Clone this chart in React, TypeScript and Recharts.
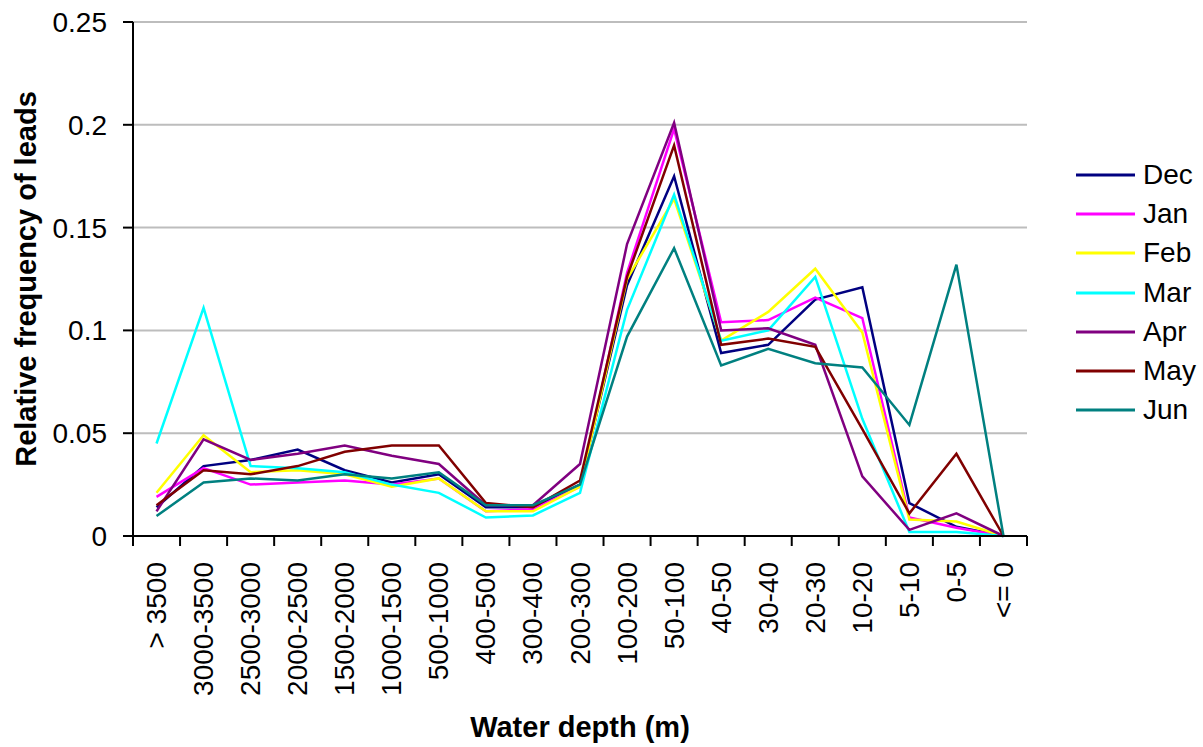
import { LineChart, Line, XAxis, YAxis, CartesianGrid, Legend } from 'recharts'

const depths = [
  '> 3500', '3000-3500', '2500-3000', '2000-2500', '1500-2000', '1000-1500', '500-1000',
  '400-500', '300-400', '200-300', '100-200', '50-100', '40-50', '30-40', '20-30',
  '10-20', '5-10', '0-5', '<= 0'
]

const dec = [0.014, 0.034, 0.037, 0.042, 0.032, 0.026, 0.030, 0.014, 0.014, 0.025, 0.122, 0.175, 0.089, 0.093, 0.115, 0.121, 0.016, 0.0045, 0]
const jan = [0.019, 0.033, 0.025, 0.026, 0.027, 0.025, 0.028, 0.012, 0.013, 0.024, 0.128, 0.198, 0.104, 0.105, 0.116, 0.106, 0.009, 0.004, 0]
const feb = [0.021, 0.049, 0.031, 0.032, 0.030, 0.024, 0.028, 0.012, 0.012, 0.024, 0.125, 0.164, 0.095, 0.109, 0.130, 0.099, 0.008, 0.007, 0]
const mar = [0.045, 0.111, 0.034, 0.033, 0.031, 0.025, 0.021, 0.009, 0.010, 0.021, 0.110, 0.166, 0.095, 0.100, 0.126, 0.057, 0.002, 0.002, 0]
const apr = [0.012, 0.047, 0.037, 0.040, 0.044, 0.039, 0.035, 0.015, 0.015, 0.035, 0.142, 0.201, 0.100, 0.101, 0.093, 0.029, 0.003, 0.011, 0]
const may = [0.015, 0.032, 0.030, 0.034, 0.041, 0.044, 0.044, 0.016, 0.014, 0.027, 0.126, 0.190, 0.093, 0.096, 0.092, 0.052, 0.011, 0.040, 0]
const jun = [0.0097, 0.026, 0.028, 0.027, 0.030, 0.028, 0.031, 0.015, 0.015, 0.025, 0.097, 0.140, 0.083, 0.091, 0.084, 0.082, 0.054, 0.132, 0]

const yTicks = [0, 0.05, 0.1, 0.15, 0.2, 0.25]

const series = [
  { key: 'Dec', values: dec, color: '#000080' },
  { key: 'Jan', values: jan, color: '#ff00ff' },
  { key: 'Feb', values: feb, color: '#ffff00' },
  { key: 'Mar', values: mar, color: '#00ffff' },
  { key: 'Apr', values: apr, color: '#800080' },
  { key: 'May', values: may, color: '#800000' },
  { key: 'Jun', values: jun, color: '#008080' }
]
const seriesOrder = series.map(s => s.key)

const data = depths.map((depth, i) => {
  const row: Record<string, string | number> = { depth }
  series.forEach(s => { row[s.key] = s.values[i] })
  return row
})

// layout
const W = 1203
const H = 747
const Y_AXIS_W = 133
const X_AXIS_H = 211
const LEGEND_W = 127
const MARGIN = { top: 22, right: 49, bottom: 0, left: 0 }
const PLOT_W = W - Y_AXIS_W - MARGIN.right - LEGEND_W
const STEP = PLOT_W / depths.length
const FONT = '"Liberation Sans", Arial, sans-serif'

function DepthTick(props: any) {
  const { x, y, payload, index } = props
  const axisY = y - 10
  const ty = y + 16
  return (
    <g>
      <line x1={x - STEP / 2} y1={axisY} x2={x - STEP / 2} y2={axisY + 10} stroke="#000" strokeWidth={2} />
      {index === depths.length - 1 && (
        <line x1={x + STEP / 2} y1={axisY} x2={x + STEP / 2} y2={axisY + 10} stroke="#000" strokeWidth={2} />
      )}
      <text
        x={x}
        y={ty}
        transform={`rotate(-90 ${x} ${ty})`}
        textAnchor="end"
        dominantBaseline="central"
        fontSize={28}
        fill="#000"
      >
        {payload.value}
      </text>
    </g>
  )
}

function MonthLegend({ payload }: any) {
  const items = [...(payload || [])].sort(
    (a: any, b: any) => seriesOrder.indexOf(a.value) - seriesOrder.indexOf(b.value)
  )
  return (
    <div style={{ width: LEGEND_W }}>
      {items.map((item: any) => (
        <div key={item.value} style={{ display: 'flex', alignItems: 'center', height: 39.3 }}>
          <svg width={60} height={6}>
            <line x1={0} y1={3} x2={59} y2={3} stroke={item.color} strokeWidth={3} />
          </svg>
          <span style={{ marginLeft: 7, fontSize: 28, color: '#000', fontFamily: FONT }}>{item.value}</span>
        </div>
      ))}
    </div>
  )
}

export default function App() {
  return (
    <div style={{ position: 'absolute', left: 0, top: 0, background: '#fff', fontFamily: FONT }}>
      <LineChart width={W} height={H} data={data} margin={MARGIN}>
        <CartesianGrid vertical={false} stroke="#bdbdbd" strokeWidth={2} />
        <XAxis
          dataKey="depth"
          interval={0}
          padding={{ left: STEP / 2, right: STEP / 2 }}
          height={X_AXIS_H}
          tickLine={false}
          tickSize={10}
          tickMargin={0}
          axisLine={{ stroke: '#000', strokeWidth: 2 }}
          tick={<DepthTick />}
          label={{
            content: (p: any) => {
              const vb = p.viewBox
              return (
                <text x={vb.x + vb.width / 2} y={vb.y + 201} textAnchor="middle" fontSize={29} fontWeight="bold" fill="#000">
                  Water depth (m)
                </text>
              )
            }
          }}
        />
        <YAxis
          type="number"
          domain={[0, 0.25]}
          ticks={yTicks}
          width={Y_AXIS_W}
          tickSize={10}
          tickMargin={16}
          tickFormatter={(v: number) => String(v)}
          tick={{ fontSize: 28, fill: '#000' }}
          tickLine={{ stroke: '#000', strokeWidth: 2 }}
          axisLine={{ stroke: '#000', strokeWidth: 2 }}
          label={{
            content: (p: any) => {
              const vb = p.viewBox
              const cx = vb.x + 26
              const cy = vb.y + vb.height / 2
              return (
                <text
                  x={cx}
                  y={cy}
                  transform={`rotate(-90 ${cx} ${cy})`}
                  textAnchor="middle"
                  dominantBaseline="central"
                  fontSize={29}
                  fontWeight="bold"
                  fill="#000"
                >
                  Relative frequency of leads
                </text>
              )
            }
          }}
        />
        <Legend
          layout="vertical"
          align="right"
          verticalAlign="middle"
          content={<MonthLegend />}
          wrapperStyle={{ left: 1076, top: 155 }}
        />
        {series.map(s => (
          <Line
            key={s.key}
            type="linear"
            dataKey={s.key}
            stroke={s.color}
            strokeWidth={2.5}
            dot={false}
            isAnimationActive={false}
          />
        ))}
      </LineChart>
    </div>
  )
}
